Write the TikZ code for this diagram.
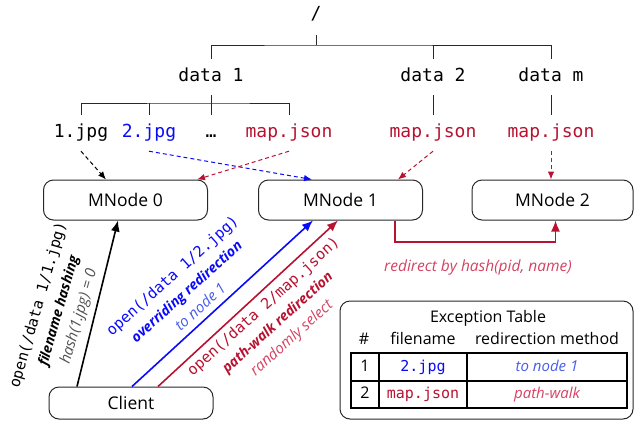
\documentclass[tikz,border=0pt]{standalone}
\usepackage{fontspec}
\setmainfont{Open Sans}
\setmonofont{DejaVu Sans Mono}
\usetikzlibrary{arrows.meta}

\definecolor{pathred}{RGB}{183,18,48}
\definecolor{softred}{RGB}{212,66,98}
\definecolor{pureblue}{RGB}{10,10,250}
\definecolor{softblue}{RGB}{72,92,236}
\definecolor{edgegray}{RGB}{40,40,40}
\definecolor{notegray}{RGB}{80,80,80}

\tikzset{
  mnode/.style={draw=edgegray, line width=1pt, rounded corners=10pt,
    minimum width=164pt, minimum height=40pt, inner sep=0pt,
    font=\fontsize{17.5}{20}\selectfont},
  treelbl/.style={font=\ttfamily\fontsize{18}{20}\selectfont, inner sep=0pt,
    text height=13pt, text depth=4pt, minimum height=36pt},
  treeline/.style={line width=1pt, draw=edgegray},
  dasharrow/.style={line width=1pt, dash pattern=on 4pt off 3pt,
    -{Latex[length=8pt,width=6.5pt]}},
  solidarrow/.style={line width=1.6pt, -{Latex[length=11pt,width=9pt]}},
  notelbl/.style={align=center, inner sep=0pt,
    font=\fontsize{14}{21}\selectfont},
  tabtxt/.style={inner sep=0pt, font=\fontsize{16}{18}\selectfont,
    text height=12pt, text depth=3pt},
  celltxt/.style={inner sep=0pt, font=\fontsize{15}{18}\selectfont,
    text height=11pt, text depth=3pt},
}

\begin{document}
\begin{tikzpicture}[x=1pt,y=-1pt]
\useasboundingbox (0,0) rectangle (634,421);

% directory tree
\node[treelbl, minimum height=40pt] (root) at (316,15) {/};
\node[treelbl] (d1) at (211,77) {data 1};
\node[treelbl] (d2) at (433,77) {data 2};
\node[treelbl] (dm) at (551,77) {data m};
\node[treelbl] (f1) at (81,133) {1.jpg};
\node[treelbl, text=pureblue] (f2) at (149,133) {2.jpg};
\node[treelbl] (fdots) at (211,133) {…};
\node[treelbl, text=pathred] (fm1) at (289,133) {map.json};
\node[treelbl, text=pathred] (fm2) at (433,133) {map.json};
\node[treelbl, text=pathred] (fmm) at (551,133) {map.json};

\coordinate (bar1) at (316,45);
\coordinate (bar2) at (211,103);
\draw[treeline] (root.south) -- (bar1);
\draw[treeline] (d1.north) |- (bar1) -| (dm.north);
\draw[treeline] (d2.north) -- (d2.north |- bar1);
\draw[treeline] (f1.north) |- (bar2) -| (fm1.north);
\draw[treeline] (f2.north) -- (f2.north |- bar2);
\draw[treeline] (d1.south) -- (fdots.north);
\draw[treeline] (d2.south) -- (fm2.north);
\draw[treeline] (dm.south) -- (fmm.north);

% metadata nodes and client
\node[mnode] (m0) at (125.5,200) {MNode 0};
\node[mnode] (m1) at (340.5,200) {MNode 1};
\node[mnode, minimum width=161pt] (m2) at (552.5,200) {MNode 2};
\node[mnode, minimum height=32pt] (client) at (131,403) {Client};

% file placement
\draw[dasharrow] (f1.south) -- ([xshift=-19.5pt]m0.north);
\draw[dasharrow, pureblue] (f2.south) -- ([xshift=-28.5pt]m1.north);
\draw[dasharrow, pathred] (fm1.south) -- ([xshift=71.5pt]m0.north);
\draw[dasharrow, pathred] (fm2.south) -- ([xshift=57.5pt]m1.north);
\draw[dasharrow, pathred] (fmm.south) -- (fmm.south |- m2.north);

% client requests
\draw[solidarrow] ([xshift=-54pt]client.north) -- ([xshift=-7.5pt]m0.south);
\draw[solidarrow, pureblue] ([xshift=1pt]client.north) -- ([xshift=-27.5pt]m1.south);
\draw[solidarrow, pathred] ([xshift=27pt]client.north) -- ([xshift=-2.5pt]m1.south);

\coordinate (redir) at (470,242);
\draw[solidarrow, pathred] ([xshift=54.5pt]m1.south) |- (redir) -| ([xshift=3pt]m2.south);
\node[font=\itshape\fontsize{15.5}{18}\selectfont, text=softred] (redirlbl) at (478,267)
  {redirect by hash(pid, name)};

% request labels
\node[notelbl, rotate=74] (hashlbl) at (59,311)
  {{\ttfamily\fontsize{15}{21}\selectfont open(/data 1/1.jpg)}\\
   {\bfseries\itshape filename hashing}\\
   {\itshape\fontsize{15}{21}\selectfont\color{notegray}hash(1.jpg) = 0}};
\node[notelbl, rotate=42, text=pureblue] (overlbl) at (186,291)
  {{\ttfamily\fontsize{15}{21}\selectfont open(/data 1/2.jpg)}\\
   {\bfseries\itshape overriding redirection}\\
   {\itshape\fontsize{15}{21}\selectfont\color{softblue}to node 1}};
\node[notelbl, rotate=42, text=pathred] (walklbl) at (278,323)
  {{\ttfamily\fontsize{15}{21}\selectfont open(/data 2/map.json)}\\
   {\bfseries\itshape path-walk redirection}\\
   {\itshape\fontsize{15}{21}\selectfont\color{softred}randomly select}};

% exception table
\node[draw=edgegray, line width=1pt, rounded corners=10pt,
  minimum width=293pt, minimum height=118pt] (extable) at (486.5,360) {};
\node[tabtxt] (tabtitle) at (488,318) {Exception Table};
\node[tabtxt] (hnum) at (364,340) {\#};
\node[tabtxt] (hname) at (423,340) {filename};
\node[tabtxt] (hmeth) at (547,340) {redirection method};
\draw[line width=1.3pt] (351,353) rectangle (627,408);
\draw[line width=1.3pt] (379,353) -- (379,408);
\draw[line width=1.3pt] (467,353) -- (467,408);
\draw[line width=1.3pt] (351,381) -- (627,381);
\node[celltxt, font=\fontsize{16}{18}\selectfont] (r1num) at (365,367) {1};
\node[celltxt, font=\ttfamily\fontsize{15}{18}\selectfont, text=pureblue] (r1name) at (423,367) {2.jpg};
\node[celltxt, font=\itshape\fontsize{15}{18}\selectfont, text=softblue] (r1meth) at (547,367) {to node 1};
\node[celltxt, font=\fontsize{16}{18}\selectfont] (r2num) at (365,394) {2};
\node[celltxt, font=\ttfamily\fontsize{15}{18}\selectfont, text=pathred] (r2name) at (423,394) {map.json};
\node[celltxt, font=\itshape\fontsize{15}{18}\selectfont, text=softred] (r2meth) at (547,394) {path-walk};
\end{tikzpicture}
\end{document}
